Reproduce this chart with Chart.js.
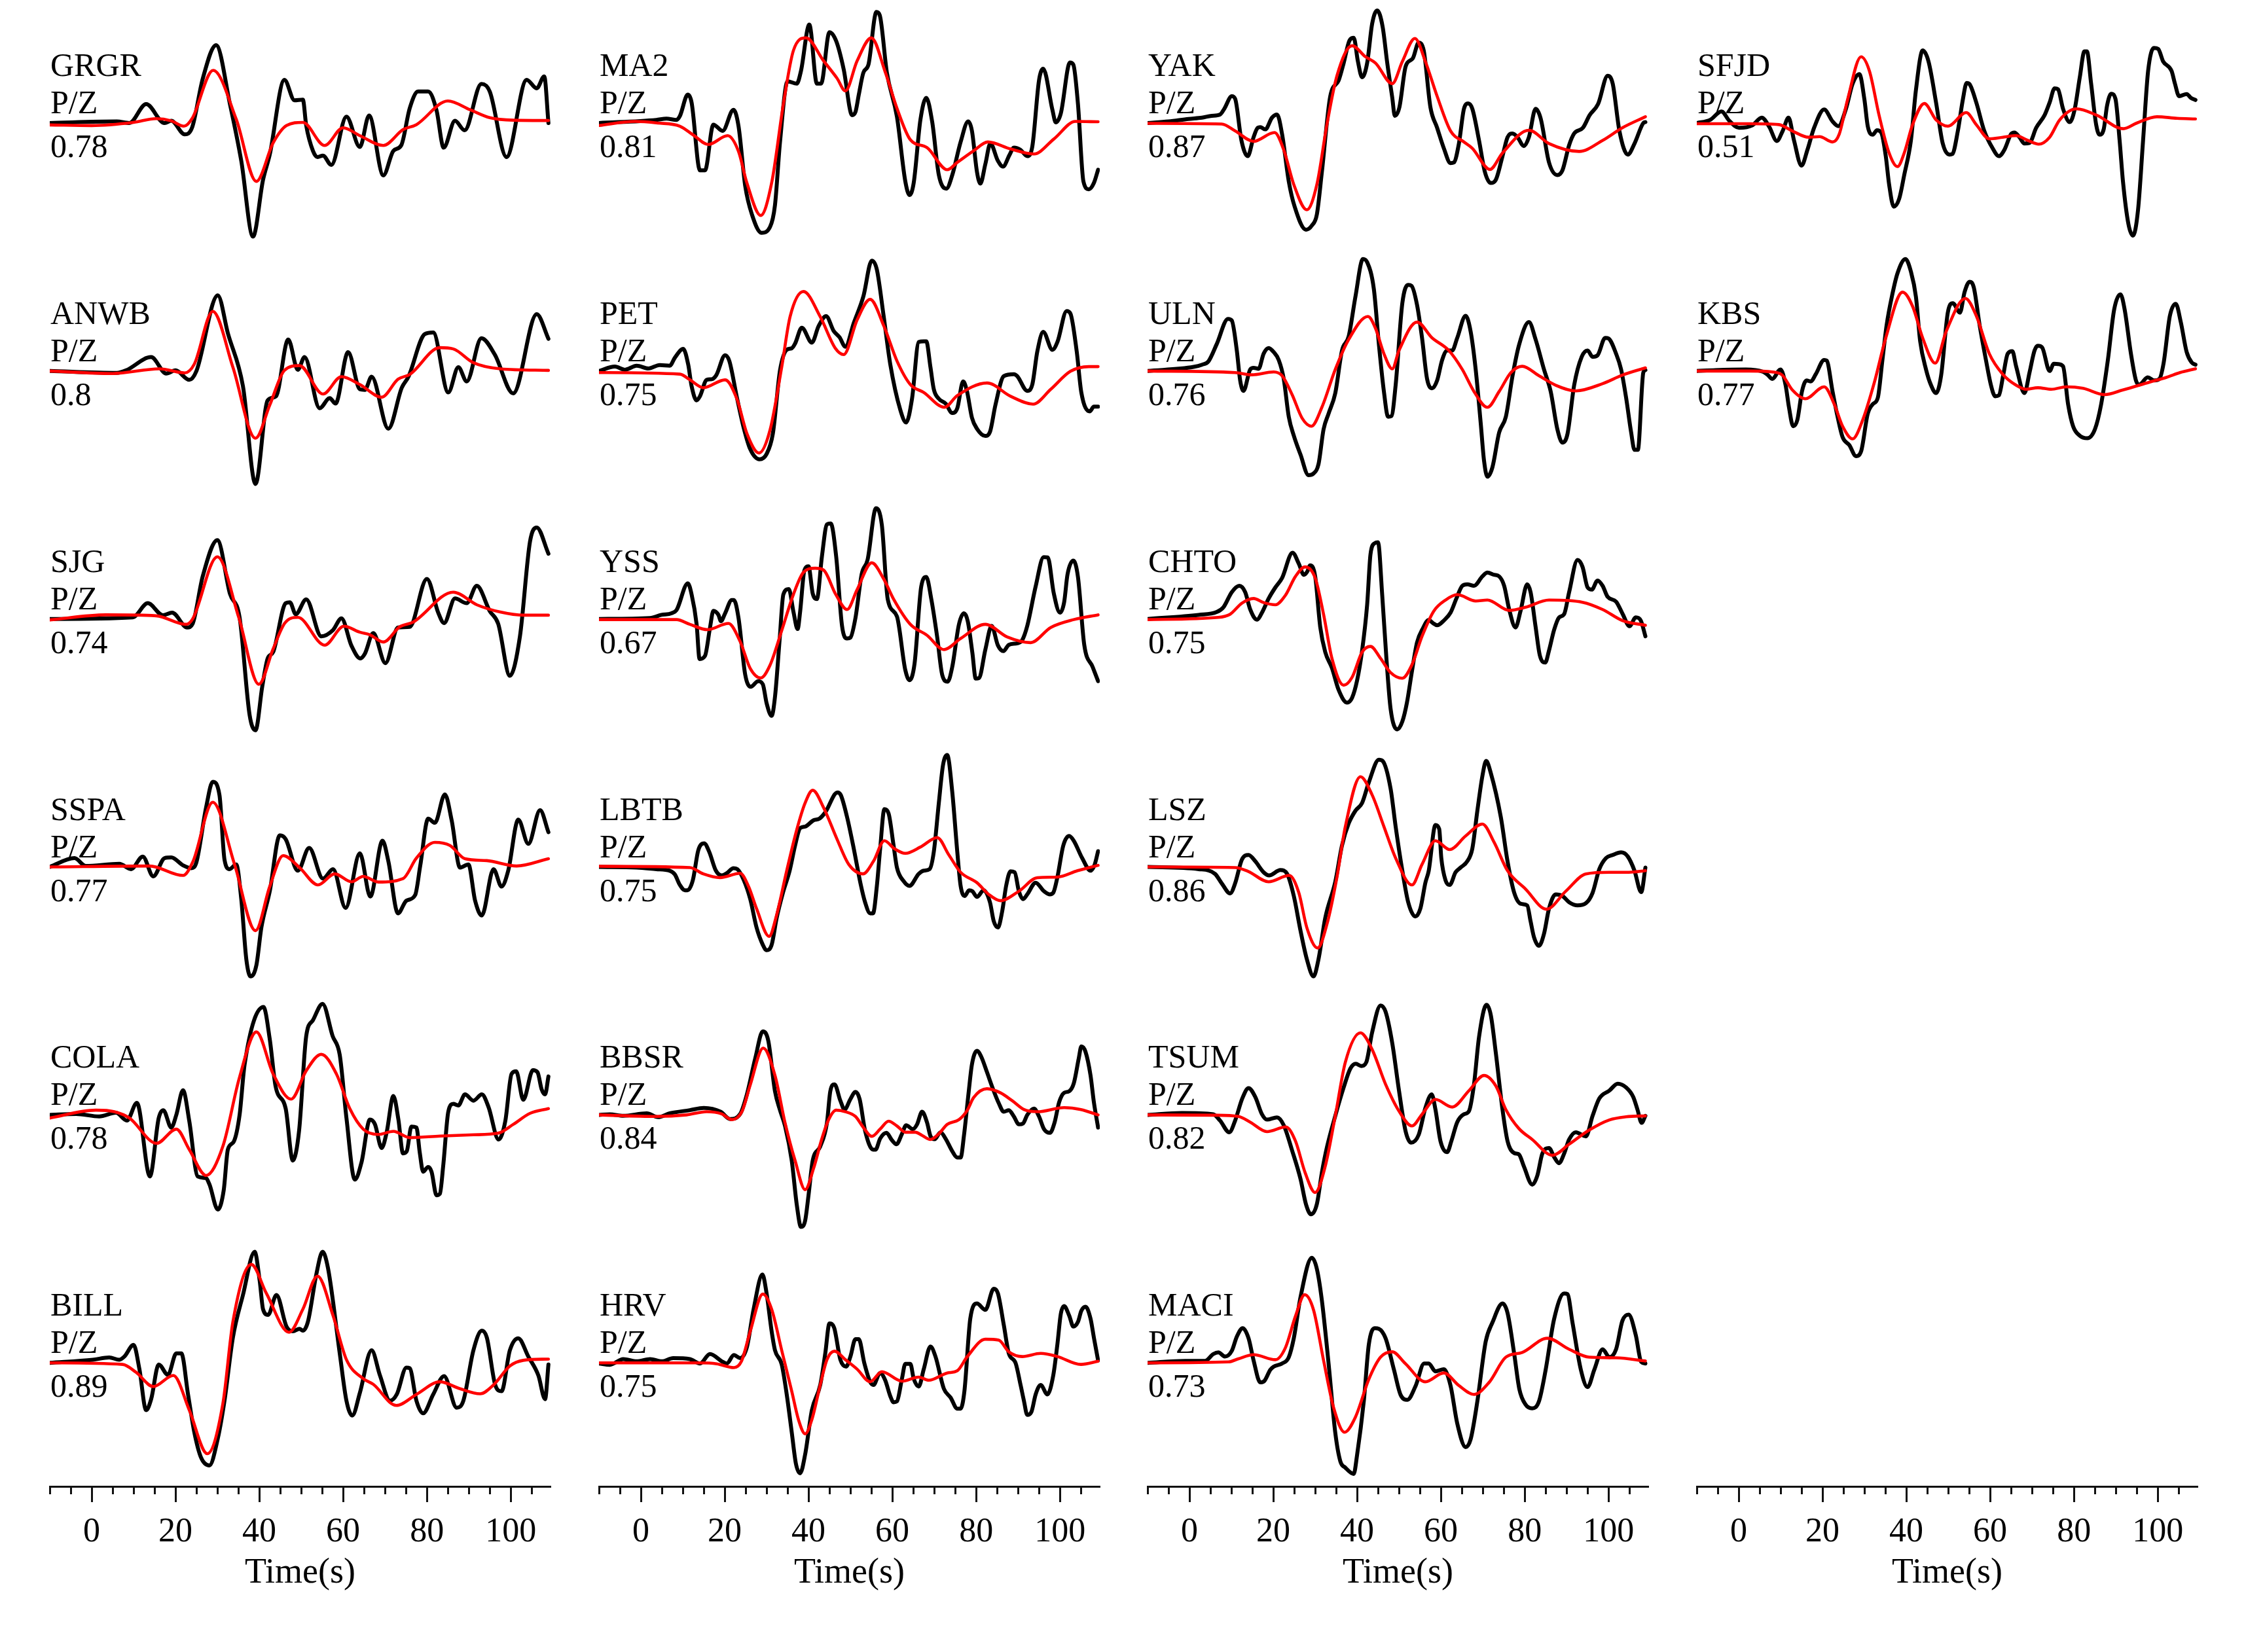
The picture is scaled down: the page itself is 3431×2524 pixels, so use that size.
<!DOCTYPE html>
<html>
<head>
<meta charset="utf-8">
<script src="https://cdn.jsdelivr.net/npm/chart.js@4.4.1/dist/chart.umd.min.js"></script>
<style>
  body { margin: 0; background: #fff; width: 3431px; height: 2524px; position: relative; overflow: hidden; }
  canvas { position: absolute; top: 0; }
</style>
</head>
<body>
<script>
// stations in column order, with the P/Z correlation for each
const stations = ['GRGR','ANWB','SJG','SSPA','COLA','BILL','MA2','PET','YSS','LBTB','BBSR','HRV','YAK','ULN','CHTO','LSZ','TSUM','MACI','SFJD','KBS'];
const ccValues = [0.78,0.8,0.74,0.77,0.78,0.89,0.81,0.75,0.67,0.75,0.84,0.75,0.87,0.76,0.75,0.86,0.82,0.73,0.51,0.77];
const panelsPerColumn = [6,6,6,2];
const componentLabel = 'P/Z';
const tickLabels = [0,20,40,60,80,100];

// waveforms as [time (s), amplitude] — obs = data (black), syn = synthetic (red)
const GRGR_obs = [[-10,0],[6,0.5],[9,0],[13,6],[17.4,0],[19,0.7],[22.2,-3.6],[24,-1.3],[26.5,14],[29.7,24.7],[33,6],[35.7,-12],[38.5,-36],[40.9,-18],[42.5,-10],[46,13.7],[48.4,7.2],[50.4,7.4],[51.2,-0.8],[52.8,-8.8],[53.9,-10.8],[55.2,-10.3],[57.2,-13.3],[60.8,2],[64,-7.6],[66.2,2.4],[69.6,-16.6],[72,-8.8],[73.9,-7],[75.9,4.7],[77.9,10],[80.3,10],[82.3,4],[84,-7.8],[86.7,0.7],[89,-2.3],[93,12.4],[95,10],[99,-10.8],[103.8,13.7],[106.2,11],[108,14.8],[109,0]];
const GRGR_syn = [[-10,-0.6],[0,-0.8],[10,0.2],[15.4,1.4],[19,0.7],[22,-1],[24,1.5],[29,16.7],[34.5,1.2],[39.3,-18.5],[43.3,-6.3],[46.5,-0.8],[50.4,0.2],[55.6,-7.1],[60,-1.5],[64,-4],[69.6,-7.1],[74.3,-2.1],[77.5,-0.5],[85,7],[90.3,4.2],[95,1.7],[100.6,0.9],[109,0.8]];
const ANWB_obs = [[-10,0],[6,-0.6],[8.2,0.2],[14.2,4.4],[17.8,-0.8],[20,0.2],[23.3,-2.8],[25,0],[30.1,24],[32.5,12],[36.1,-4.8],[39.1,-35.8],[42,-9.3],[44,-8],[46.9,10],[49.2,0.4],[50.8,4.4],[54.4,-11.8],[56.8,-8.6],[58.2,-10.3],[61.2,6],[64,-5.8],[65.2,-6],[66.8,-1.8],[70.8,-18.3],[74,-5.3],[75.6,-1.8],[79.5,11.7],[81.5,12.2],[85.1,-6.8],[87.5,1.2],[89.5,-3.3],[93,10.4],[96.2,5.2],[100.6,-7.1],[106.2,18],[109,10.2]];
const ANWB_syn = [[-10,0],[5,-0.8],[16.2,0.7],[22.2,-0.6],[24.5,2.2],[28.9,18.9],[33.7,1.2],[39.1,-21.3],[42.5,-10.8],[46,0.2],[49.6,1.7],[55.2,-7.3],[59.6,-1.8],[64,-4.3],[69.2,-8.3],[73.1,-2.6],[75.9,-1.1],[83.1,7.4],[86.3,7],[91,2.7],[97.5,0.7],[109,0.2]];
const SJG_obs = [[-10,0],[9.8,0.5],[13.4,5],[17,1.2],[19.2,2],[22.8,-2.7],[24.1,-1.5],[26.5,13.5],[30,25],[33,8],[35.3,0.5],[37.7,-30.5],[39.1,-35.3],[40.7,-21.5],[42,-12.5],[43.3,-10.5],[46.3,5],[47.3,5.3],[48.7,1.5],[51.2,6.2],[54.8,-5.5],[57.6,-3.5],[59.6,0.2],[62,-8.5],[64.1,-12.5],[65.2,-11],[67.2,-4.5],[70.1,-14],[73.1,-2.7],[75.9,-2.5],[80,12.7],[82.7,2],[84.1,-1.3],[86.7,6.5],[89.5,5],[91.9,10.5],[95,2.5],[97,-1.5],[99.8,-18],[102.2,-5.5],[104.6,24.5],[106.2,29],[109,20.7]];
const SJG_syn = [[-10,-0.3],[3.4,1.3],[15.4,1],[22.5,-1.7],[24.1,0],[30,19.7],[35.1,0.5],[39.9,-20.7],[43.3,-9.5],[46.1,-1.3],[49.2,0.5],[55.6,-8.3],[60.2,-2.3],[64,-4.2],[66.4,-5],[69.6,-7.3],[73.5,-2.5],[76.7,-1],[86.3,8.5],[91.9,4.5],[97.5,2.2],[103,1.2],[109,1.2]];
const SSPA_obs = [[-10,0],[-4.1,2.8],[-1.4,0.3],[6.6,1],[9.4,-0.7],[12.2,3.3],[14.7,-3],[17.4,2.8],[19,3],[21.8,0.5],[23.8,-0.4],[25,1.5],[27.3,18.8],[28.9,27],[30.5,22.8],[31.7,2.3],[32.9,-0.7],[34.5,0.8],[35.7,-10.2],[36.9,-29.2],[37.9,-34.7],[39.3,-31.2],[40.5,-19.2],[42.5,-7.7],[44.9,10],[46.3,8.8],[49.2,-1.2],[51.9,6],[55.2,-3.7],[57.6,-0.7],[60.6,-13],[64,4.3],[66.5,-9.4],[69.4,8.3],[70.8,1.8],[73.1,-14.7],[75.1,-10.7],[77.2,-8.9],[78.4,0.3],[80.3,15.3],[81.9,14],[84.3,23],[85.9,14.8],[87.9,-0.2],[89.9,0.8],[91.5,-10.7],[93.1,-15.4],[95.9,-0.7],[97.8,-6.2],[99.4,-1.2],[101.8,15],[104.2,7.3],[107,18],[109,11]];
const SSPA_syn = [[-10,0],[13.8,0.3],[21.8,-2.7],[24.2,1.8],[28.9,20.5],[34.1,0.8],[39.1,-20.2],[42.5,-6.2],[45.7,3.6],[49.6,-0.2],[54,-5.7],[58,-2.2],[62,-4.7],[64.8,-3],[68.4,-4.8],[74.3,-3.7],[77.5,2.8],[81.9,7.8],[85.5,6.8],[89.1,2.6],[94.3,2],[101.4,0.3],[109,2.6]];
const COLA_obs = [[-10,0],[-3.7,0.3],[1.8,-0.5],[5.8,0.7],[8.4,-1.8],[10.8,3.8],[13.9,-19.5],[16,-1],[17.1,1.5],[19,-4],[20.2,0],[21.8,7.8],[23.3,-2],[25.3,-19.5],[27.2,-20],[28.1,-22],[30.1,-30],[31.5,-24],[32.5,-11],[33.9,-8.5],[35.3,0],[36.5,16],[41,34.2],[42.5,24],[43.9,9],[46.3,2],[48,-14.5],[49.5,-5],[51.2,25],[52.8,30],[55.1,35.2],[57.5,25],[59.2,19],[60.8,-1],[62.8,-20.5],[64.4,-15],[66.4,-1.5],[67.6,-3],[69.2,-10.5],[70.4,-5.5],[72,6],[73.2,-1.5],[74.3,-12.2],[75.2,-11.5],[76.3,-3.7],[77.5,-4],[78.3,-12],[79.1,-18],[80.3,-16.5],[81.1,-18],[82.3,-25.5],[83.1,-25],[83.9,-16],[85.1,1],[86.3,3.5],[87.5,3],[89.1,6.5],[91.1,4.5],[93.1,6.5],[94.7,2.5],[97.1,-7.8],[98.7,-2],[100.2,13],[101.3,13.8],[103,4.8],[105.3,14.2],[106.4,13.5],[107.4,8],[108.2,6.5],[109,12.2]];
const COLA_syn = [[-10,-1],[1,1.5],[5.4,1],[9,-1],[15.5,-9],[20.2,-4.5],[23.3,-11],[27.3,-19.2],[31.3,-10],[35.3,12],[39.3,26.3],[43.3,13],[47.6,5],[51.2,14],[54.8,19.2],[58.4,13],[61.6,2],[64.8,-4.5],[68.4,-6.2],[72,-5.2],[75.9,-7.2],[83.1,-6.7],[91.1,-6.3],[97,-5.8],[100.6,-3],[104.6,0.5],[109,2]];
const BILL_obs = [[-10,0],[0.3,1],[4.2,1.7],[6.6,1],[7.8,2],[10,5.7],[11.4,-2],[13,-15],[14.2,-11.5],[16,-0.5],[18.2,-3.8],[20.2,3],[21.4,3],[23,-10],[24.5,-22],[26.1,-30],[28.1,-32.5],[30.1,-24],[31.7,-12],[33.7,8],[36.1,21.5],[38.9,35.2],[40.1,26],[40.9,17],[42.1,15.2],[44.1,21.5],[46.5,11.5],[48,10],[49.6,10.8],[50.4,10.2],[51.6,13],[53.6,28],[55.1,35.2],[56.4,30],[59.2,3],[60.8,-12],[62.2,-16.7],[64,-9.5],[66.8,4],[68.8,-4],[71.2,-12],[72.8,-10],[75.1,-1.5],[75.9,-1.7],[77.5,-12],[79.1,-16],[81.5,-10],[84.1,-4.2],[87.1,-14.2],[88.7,-12],[91.1,4],[93.1,10.2],[94.3,8],[96.3,-7],[97.8,-9],[99.8,4],[101.8,7.8],[104.2,2],[106.6,-4],[108.2,-11.5],[109,-0.5]];
const BILL_syn = [[-10,0],[7.4,-0.5],[10.6,-3],[14.7,-7.5],[19.5,-4],[23.3,-15],[27.6,-28.8],[31.3,-13],[33.7,13],[38.1,31.2],[41.7,22],[47.1,9.7],[50.4,17],[53.9,27.5],[57.6,15],[60.8,1],[64.8,-5],[67.2,-6.8],[72.7,-13.5],[77.5,-10],[83.1,-6],[87.9,-8.2],[92.7,-9.8],[95.9,-7],[99.8,-1],[103,0.8],[109,1.2]];

const MA2_obs = [[-10,0],[3.7,1],[6.1,1.4],[8.5,1],[9.3,2.2],[11.2,9],[12.1,6.5],[14.1,-15],[15.3,-15],[17.3,-0.5],[19.5,-2.5],[22.1,4.2],[23.3,-1],[24.9,-20],[26.5,-29],[28.8,-34.8],[30.8,-33],[32,-26],[33.2,-6],[35,13.2],[37.2,12.5],[38.2,16.5],[40.2,31.2],[42,12.5],[43,12.5],[45,28.8],[46.6,26],[48.4,17],[50.4,2.5],[51.2,3.5],[52,9],[53.1,16],[54.3,18.5],[56.2,35.2],[57,34.2],[58.7,16],[61.1,2],[63.1,-18.5],[64.1,-22.8],[65.1,-19],[66.7,1],[68.1,8],[69.5,0.5],[71.1,-16.5],[72.9,-20.8],[74.3,-16.5],[76.3,-6],[78.1,0.5],[79,-2.5],[80.2,-15.5],[81,-19.2],[82.2,-13],[83.4,-6.5],[85.2,-12],[86.4,-13.8],[88,-10],[89,-7.8],[90.6,-8.5],[92.2,-10.5],[93.4,-7.5],[95,13.5],[96,17.2],[98.2,4.2],[99,0.2],[100.2,3],[102.4,19.2],[103.2,18.5],[104.3,6],[105.6,-18.5],[106.9,-21],[108.1,-19],[109.1,-14.8]];
const MA2_syn = [[-10,-0.8],[-1.4,0.5],[4,0],[9.3,-1],[12.5,-3.8],[16.1,-6.8],[20.7,-4],[23.3,-9],[25.3,-19],[28.6,-29.3],[31.2,-19],[34,6],[36.4,23],[39.4,27],[43.6,19.7],[46.8,14.2],[48.8,10.2],[51.6,19.7],[55,27],[58.3,16.2],[61.1,4.7],[64.3,-5.3],[68.3,-7.8],[73.1,-14.8],[75.5,-12.5],[79.4,-8.8],[82.8,-6],[88.2,-8.2],[93.8,-9.8],[98.6,-5],[103.7,0.5],[109.1,0.4]];
const PET_obs = [[-10,0],[-6.2,1.4],[-3.8,0.4],[-1,1.7],[1.8,0.8],[4.5,1.9],[6.9,1.7],[8.1,4.2],[10.1,7],[11.3,2],[12.1,-4.8],[13.3,-9.3],[14.1,-8],[15.7,-2.8],[16.9,-2.6],[18,-1.3],[20.1,5],[21.1,3.2],[22.9,-8.3],[24.5,-17.8],[26.1,-24.8],[28.3,-28],[30,-26.3],[31.5,-19.8],[33.2,0.2],[34.8,6.7],[36,7.2],[36.8,8.7],[38.4,13.7],[40.8,9],[42.4,14.2],[44.2,17.4],[46,12.7],[47.4,10.7],[48.8,7.7],[50.8,15.2],[53.1,23.7],[55.1,35],[56.3,32.2],[57.9,17.7],[59.5,2.2],[61.9,-12.3],[63.3,-16.3],[64.7,-8.8],[66.3,9.2],[67.5,9.4],[68.1,9.4],[69.1,1.2],[69.9,-5.8],[71.1,-8.8],[72.7,-10.3],[74.3,-13.3],[75.5,-11.8],[76.9,-3.3],[77.8,-6.3],[79,-14.8],[80.2,-18.3],[82.2,-20.6],[83.3,-19.3],[84.6,-10.8],[86.6,-1.6],[89,-1],[89.8,-1.6],[92.2,-6.3],[93.4,-4.3],[94.6,6.2],[96,12.4],[98.2,6.7],[99.4,9.2],[101.6,19],[102.5,18.2],[104,6.2],[105.1,-6.8],[107.1,-12.8],[108.1,-11.3],[109.1,-11.3]];
const PET_syn = [[-10,-0.5],[9.3,-1],[11.7,-2.8],[14.9,-5.3],[20.1,-2.8],[22.9,-8.8],[25.3,-19.8],[28.2,-26],[30.8,-18.8],[33.6,1.2],[35.6,17.2],[38.8,25.2],[42.8,17.2],[46.4,7.2],[48.4,5.2],[51.6,16.2],[54.7,22.7],[58,14.2],[61.1,3.2],[64.3,-4.3],[67.5,-6.8],[72.4,-11.5],[75.5,-7.8],[82.6,-3.8],[88.2,-8],[93.6,-10.5],[97.8,-5.8],[102.5,-0.1],[106.9,1.4],[109.1,1.4]];
const YSS_obs = [[-10,0],[2.2,0.3],[4.9,1.3],[7.3,1.8],[8.5,2.8],[11.2,11.3],[12.1,7.8],[13.3,-1.7],[14,-12.7],[15.3,-11.7],[16.5,-2.7],[17.3,2.6],[18.5,1.3],[19.1,-0.7],[20.1,1.8],[21.7,6],[22.2,6],[23.3,0.3],[24.9,-17.7],[26.2,-21.5],[28,-19.7],[29.1,-20.7],[30,-26.7],[31.2,-30.7],[32,-24.7],[33.1,-6.7],[34,7.8],[35.3,9.5],[36.4,2.3],[37.4,-3.2],[38,2.3],[39,15.3],[40,16.7],[41,8.1],[42,6.3],[43.2,19.8],[44.4,30],[45.3,30.3],[46.6,19.8],[48,-2.2],[49.2,-6.2],[50,-5.9],[51.2,0.3],[52.7,14.3],[54.1,18.8],[56.1,35.1],[57.5,29.8],[58.9,6.3],[61.1,0.8],[63.1,-16.2],[64.1,-19.4],[65.3,-14.2],[66.9,10.3],[68.1,13.3],[69.3,6.3],[70.7,-5.7],[71.9,-17.7],[73.2,-19.9],[74.3,-15.2],[75.9,-1.7],[77.1,1.8],[78,-0.7],[79.1,-10.7],[79.9,-18.9],[80.7,-18.7],[82.2,-9.7],[83.7,-2.2],[85.2,-8.4],[86.5,-10.2],[87.8,-8.2],[89.8,-7.7],[91,-6.7],[92.2,-2.2],[94.2,10.3],[96.1,19.6],[97.1,19.5],[98.5,8.3],[100,2],[101,5.3],[101.8,14.1],[103.2,18.5],[104.3,13.3],[105.8,-8.2],[107.8,-15.2],[109.1,-19.7]];
const YSS_syn = [[-10,-0.2],[8.5,-0.2],[11.7,-1.7],[15.9,-3.4],[20.9,-1.4],[23.7,-7.2],[26.1,-15.7],[28.6,-18.7],[30.8,-14.7],[33.6,-3.7],[36.4,7.8],[38.8,14.8],[41.6,16.1],[43.6,15.5],[46.5,7.8],[49.2,3],[51.6,9.3],[55.1,17.8],[57.9,12.8],[60.3,6.3],[64.3,-1.7],[68.3,-5.2],[72.3,-9.7],[76.3,-6.2],[82.2,-1.7],[87.4,-5.7],[93,-7.5],[97.8,-2.7],[103.3,-0.2],[109.1,1.3]];
const LBTB_obs = [[-10,0],[-1,-0.2],[3.7,-0.7],[6.9,-1.2],[8.1,-2.4],[9.3,-5.7],[10.5,-7.4],[11.1,-7.4],[12.4,-4.2],[13.7,5.3],[15.1,7.5],[16.3,4.8],[17.9,-1.2],[19.3,-2.7],[20.5,-2],[22.1,-0.4],[23,-0.7],[24.5,-4],[26.1,-10.2],[27.6,-19.2],[29.1,-24.7],[30,-26.4],[31.2,-24.7],[32.4,-16.2],[33.9,-8.2],[35.5,-1.2],[36.8,6.8],[38,12.3],[39.2,12.8],[41.2,14.8],[42.6,15.3],[44,17.3],[46.9,23.6],[47.7,22.8],[49.2,15.8],[50.8,5.8],[52.4,-5.2],[53.5,-11.2],[54.7,-14.7],[55.4,-14.7],[56.3,-6.2],[57.1,5.8],[58.1,18.3],[59.1,17],[60.3,6.8],[61.1,-0.2],[62.7,-4.5],[64.1,-6],[66.3,-2.2],[67.5,-1.2],[68.9,-0.7],[69.9,4.8],[71.1,20.3],[72.1,32.3],[73.1,35.5],[74.3,23.8],[75.5,4.8],[76.3,-6],[77.3,-9.2],[78.3,-7.4],[79.1,-7.7],[80.2,-9.5],[81.8,-7.4],[83.3,-11.2],[84.2,-17.2],[85.2,-19.2],[86.2,-14.2],[87.2,-5.7],[88.2,-1.4],[89.2,-1.7],[90.2,-7.7],[91.2,-10.2],[92.2,-8.7],[94.2,-5],[96.2,-7.7],[97.6,-8.7],[98.4,-8.2],[99.4,-3.2],[100.8,6.8],[102.2,9.8],[103.3,8.3],[105.3,2.8],[107.3,-1.2],[108.3,0.8],[109.1,5]];
const LBTB_syn = [[-10,0.2],[11.7,-0.2],[14.9,-2.2],[18.9,-3.4],[23.7,-2],[25.7,-6.2],[27.6,-13.2],[30.6,-22],[32.4,-15.2],[34.8,-1.2],[37.2,11.8],[39.2,20.3],[41,24.3],[43.6,18.8],[46.8,8.8],[49.6,0.8],[53,-2.2],[55.5,1.8],[58.1,8.3],[60.5,5.8],[63.1,4.3],[66.7,6.3],[70.7,9.3],[73.5,3.8],[76.3,-1.7],[80.2,-5],[83,-8.7],[85.8,-10.7],[90.2,-7.7],[94.6,-3.4],[99.4,-3.2],[104.2,-1.2],[109.1,0.5]];
const BBSR_obs = [[-10,0],[-7.4,0.2],[-4.2,-0.3],[1.4,0.5],[4.1,-0.7],[6.9,0.5],[11.7,1.5],[15,2.2],[19,1],[21.3,-1.3],[23.7,0.3],[25.3,6.5],[27.3,18],[29.1,26.5],[30.4,23.5],[32,7.5],[33.2,1.5],[34.4,-3.5],[36,-14.5],[37.2,-28.5],[38.2,-35.5],[39.2,-33.5],[40,-25.5],[41,-14.5],[42.8,-10],[44.4,-2.5],[45.2,7.5],[46.2,9.7],[47.6,4.5],[48.6,1.7],[50,5],[51.2,7.3],[52.2,5],[53.5,-5],[55.4,-11],[56,-11],[57.1,-7.5],[58.6,-5.7],[59.9,-8],[61,-9.3],[62.3,-6],[63.3,-3.3],[64.9,-4.5],[65.9,-3],[67.1,1],[68.3,-2.5],[69.1,-6.7],[70.1,-7.7],[71.5,-5.5],[72.7,-7.5],[74.3,-11.5],[75.5,-13.5],[76.3,-13.5],[77.1,-6.5],[78.2,7],[79,16],[80.2,20.3],[81.2,18.5],[82.6,13.5],[83.8,9],[85.4,3.7],[86.6,1],[87.8,1.5],[89,-0.5],[90.2,-3],[91.2,-2.7],[92.2,0],[93.8,2],[95,-0.5],[96.2,-4.5],[97.6,-5.7],[98.7,-2.5],[99.8,4],[101,7],[102.2,7.5],[103.3,10],[104.5,18],[105.1,21.7],[106.1,20],[107.3,12.5],[108.1,4],[109.1,-4]];
const BBSR_syn = [[-10,0],[3.7,-0.5],[10.9,0],[15.7,1],[19.3,0.3],[21.7,-1.5],[24.1,1],[26.1,9.5],[29.2,21.2],[32,12.5],[34.4,-2.5],[36.8,-14.5],[39.2,-23.7],[41.2,-17],[43.2,-7.5],[44.8,-1.5],[46.6,1.5],[48.8,1],[51.2,-0.5],[53.1,-4],[55.1,-6.8],[57.1,-4.5],[59.1,-2],[61.1,-3.5],[63.1,-5.5],[65.5,-5.5],[67.1,-6.5],[69.1,-7.8],[71.1,-6],[73.1,-3],[75.9,-1.5],[77.9,1.5],[79.4,5.5],[82.6,8.3],[85.8,7],[88.6,4.5],[91.4,1.7],[94.6,1],[101,2.3],[105,1.7],[109.1,0]];
const HRV_obs = [[-10,-0.2],[-7.4,-0.6],[-4.2,1.2],[-1,0.5],[2.2,1.2],[5,0.5],[7.7,1.5],[11.7,1.2],[14.1,-0.2],[16.5,2.8],[19.3,0.5],[20.5,-0.2],[22.2,2.5],[23.7,1.5],[25.3,5],[26.9,17],[29,28],[30,22],[31.2,10],[32,4],[33.6,-0.5],[34.8,-10],[36,-22],[37,-32],[38,-35],[39.2,-29],[40.8,-15],[42.8,-7],[44,3],[45,12.5],[46.1,11.2],[47.6,1],[49,-1.2],[50,2],[51.2,7.5],[52,7.5],[53.3,0],[54.7,-6],[55.5,-7],[57.1,-3.2],[58.3,-5.5],[59.5,-10.5],[60.3,-12.5],[61.1,-12.2],[62.3,-5],[63.1,-0.3],[64.3,-0.3],[65.1,-5],[66.3,-7.5],[67.5,-2],[69.1,5.2],[70.3,2],[72.3,-8.2],[73.9,-11],[75.5,-14.5],[76.3,-14.5],[77.2,-9],[78.6,14],[80.2,18.8],[82.2,16.8],[84.2,23.5],[85.2,22],[86.6,12],[87.8,3],[89.4,0],[90.6,-7],[91.4,-12],[92.2,-16.5],[93.2,-15.5],[94.2,-10],[95.4,-7],[97,-10],[98.4,-4],[99.4,6],[100.2,15.5],[101,18],[102.2,15],[103.2,11.5],[104.3,13],[105.1,16.5],[106.1,17.8],[107.3,14],[108.1,8],[109.1,0.8]];
const HRV_syn = [[-10,0],[14.1,0],[18.1,-0.3],[22.2,-1.5],[24,0.5],[26.1,10],[29.1,21.8],[31.2,17],[33.6,4],[36,-9],[37.6,-18],[39.2,-22.5],[40.8,-18],[42.8,-7],[44.4,1],[46.2,3.7],[48.8,1],[51.6,-2],[54.7,-6],[57.5,-2.8],[62.3,-5.8],[66.3,-4.5],[68.7,-5.5],[73.1,-3.2],[75.5,-2.5],[77.9,2],[82.2,7.5],[85.4,7.2],[87.8,3.5],[91,2],[95.4,3],[99.4,2],[105,-0.5],[109.1,0.5]];

const YAK_obs = [[-10,0],[-5,0.5],[-0.2,1.3],[3,1.7],[5.3,2.3],[7.3,2.7],[8.3,4.5],[10.1,8.5],[10.9,7.7],[12.4,-5.5],[13.9,-10.5],[15.3,-4.5],[16.3,-1.5],[16.9,-1.3],[18.1,-2],[19.7,1.7],[20.9,2.7],[22.1,-3.5],[23.7,-18.5],[25.1,-26.5],[27.8,-33.8],[29.2,-32.5],[30.4,-29],[31.6,-15.5],[33.6,8.5],[35.6,13.5],[36.8,19],[38.2,26.2],[39.2,27],[40.2,19.5],[41.2,14.5],[42.4,19],[43.6,31.5],[44.8,35.7],[46.1,30.5],[47.2,19],[48.4,8],[49,2.3],[50.1,5],[51.6,18],[53.3,20.5],[54.7,25.5],[55.9,23],[57.5,5],[59.1,-1.5],[60.7,-8],[62.3,-12.7],[63.1,-12.5],[64.3,-6.5],[65.5,4.5],[66.5,6.2],[67.5,4.5],[69.1,-5.5],[70.5,-15.5],[71.9,-19],[73.1,-18],[74.7,-10.5],[75.9,-4.5],[77.1,-3.3],[78.3,-4.5],[79.8,-7.3],[81,-4.5],[82.6,4.5],[83.8,1.5],[85.8,-12.5],[87.8,-16.5],[89,-15],[90.6,-7],[91.8,-3.3],[93.9,-1.5],[95.5,2.5],[97.5,6],[99.8,15],[101,12.5],[102.6,-2.5],[104.6,-10],[106.2,-6.5],[108.3,0],[108.8,0.3]];
const YAK_syn = [[-10,-0.1],[7.7,-0.3],[10.9,-2.5],[15.3,-5.8],[20.3,-3],[22.5,-8.5],[24.9,-19.5],[28,-27.5],[30.4,-19.5],[32.8,-0.5],[35.2,15],[38.8,24.5],[42,21],[44.4,19],[48.4,12.5],[50.8,19.5],[53.8,26.8],[56.3,19.5],[59.1,8.5],[62.3,-2.5],[65.5,-6],[67.5,-8],[71.7,-14.7],[74.7,-9.5],[81,-2.3],[85.8,-6.5],[93,-9],[98.6,-5.5],[103.3,-1.5],[108.8,2]];
const ULN_obs = [[-10,0],[1,1.3],[3,2],[4.5,3],[6.5,8.5],[9.2,16.5],[10.1,16],[11.3,6.5],[12.1,-3],[12.9,-6.3],[14.5,0.5],[15.3,1],[16.5,0.7],[17.7,5.5],[18.9,7.3],[20.1,6],[21.3,3.5],[22.5,-2.5],[23.7,-14.5],[24.9,-20.5],[26.5,-26.5],[28.4,-33],[29.6,-32.5],[30.8,-29.5],[32,-18.5],[33.2,-13.5],[34.8,-7],[36.4,6.5],[38,11],[39.6,23.5],[41.4,35.5],[42.4,34.5],[44,26],[45.2,8.5],[46.4,-6.5],[47.4,-14.5],[48.2,-14.3],[49.2,-4.5],[50.8,21.5],[52.2,27.3],[53,27],[54.3,21],[55.5,10.5],[56.7,-2.5],[57.9,-5.5],[59.1,-3],[60.3,3.5],[61.5,6.5],[62.7,6.5],[63.9,10.5],[65.9,17.5],[67.1,12.5],[68.3,0.5],[69.5,-16.5],[70.3,-28.5],[71.1,-33.5],[72.3,-30.5],[73.9,-19.5],[75.5,-14.5],[77.1,-1.5],[78.7,8.5],[81,15.5],[82.6,10],[84.6,0.5],[86.2,-6.5],[87.8,-18.5],[89,-22.7],[90.2,-20],[91.8,-4.5],[93.6,4.5],[95,6.5],[96.2,4.5],[97.4,5],[99.2,10.5],[100,10.3],[101.8,5.5],[103,0.5],[104.2,-8.5],[105.4,-19.5],[106.2,-25],[107,-25],[108.3,-0.5],[108.8,0.3]];
const ULN_syn = [[-10,0],[10.9,-0.5],[14.9,-1.2],[20.1,-0.3],[22.1,-1.5],[24.5,-7.5],[26.9,-15],[29.1,-17.5],[31.6,-11.5],[34.8,0.5],[38,10],[42.6,17.3],[44.4,13.5],[46.4,5.5],[48.4,0.7],[50,6.5],[54.3,15.5],[57.9,10.5],[61.9,6.5],[65.1,0.5],[67.9,-6.5],[71.1,-11.5],[73.9,-6.5],[76.7,-0.5],[79.4,1.5],[83.4,-1.5],[87.4,-4.5],[92.2,-6.3],[98.6,-4],[103.3,-1.3],[108.8,1]];
const CHTO_obs = [[-10,0],[2.2,1.3],[6.5,2.2],[8.1,3.7],[10.1,8.5],[11.9,10.5],[13.3,8.5],[14.5,3],[16.1,-0.2],[17.3,2],[18.9,6.5],[20.5,10],[22.1,13],[24.6,21],[26.1,17.5],[27.3,14],[28.1,15],[28.8,17],[30,13.5],[31.2,-2.5],[32.4,-10.5],[34,-15.5],[35.6,-22.5],[37.6,-26.5],[38.8,-25],[40,-19.5],[41.2,-10],[42.4,4.5],[43.2,20.5],[44.2,24],[45,24.3],[46,7.5],[47,-12.5],[48,-28.5],[49.6,-35],[50.8,-32.5],[51.9,-26.5],[53.1,-16.5],[54.3,-7.5],[55.7,-3],[57.1,-0.3],[58.1,-1.3],[59.1,-2],[60.7,-0.5],[62.3,2],[63.7,6.5],[65.1,10.5],[66.3,11],[67.9,10.5],[69.9,13.5],[71.1,14.7],[72.7,14],[73.9,13.5],[75.1,10.5],[76.3,3],[77.8,-2.7],[79,2.5],[80.6,11],[81.4,8.5],[82.6,-2.5],[83.6,-11.5],[84.9,-13.8],[85.8,-10],[87,-3.5],[88.2,0.5],[89.4,1.5],[90.6,8.5],[92.6,18.7],[93.8,16.5],[95,10],[96,9.3],[97.4,12.2],[98.6,10.5],[99.8,7],[101.8,5.5],[103.4,1.5],[105,-2.3],[106.5,0.5],[107.7,-0.5],[108.8,-5.5]];
const CHTO_syn = [[-10,-0.2],[6.9,0.5],[9.7,1.5],[12.5,5],[15.3,6.5],[17.7,5.2],[20.5,4.5],[22.9,7.5],[25.3,13.5],[27.6,16.5],[30,13],[32,1.5],[34,-12.5],[36.8,-21],[38.8,-18.5],[41.2,-10.5],[43.2,-8.7],[45.6,-12.5],[48,-17],[50.8,-18.8],[53.1,-14.5],[55.5,-5.5],[58.3,2.5],[61.1,6],[63.9,7.7],[68.3,5.7],[71.1,6],[76.3,2.7],[80.2,3.7],[85.8,6],[93.8,5.3],[98.6,3],[103.3,-0.5],[108.8,-2]];
const LSZ_obs = [[-10,0],[2.2,-0.7],[6.1,-2.2],[7.7,-5.2],[9.7,-8.4],[10.9,-5.2],[12.5,2.3],[14.1,3.8],[15.7,1.8],[17.7,-1.7],[19,-2.7],[21.7,-1],[23.3,-2.2],[24.9,-9.2],[26.5,-20.2],[28,-29.2],[29.6,-34.7],[30.8,-29.2],[32.4,-16.2],[34.8,-4.7],[36.4,6.8],[38,13.8],[39.6,17.8],[41.2,20.3],[42.8,26.8],[45.2,34],[46.1,33.6],[48,24.8],[49.2,12.8],[50.8,-1.2],[52.2,-11.2],[53.9,-15.7],[55.1,-13.2],[56.3,-5],[57.1,-1.2],[58.7,13.3],[59.6,12],[60.1,2.8],[61.1,-4.2],[62.1,-5.7],[63.5,-1.7],[64.7,-0.2],[66.3,1.8],[67.5,5.8],[68.7,17.8],[69.9,28.8],[70.8,33.6],[71.9,29.8],[74.3,15.8],[75.9,1.8],[77.5,-8.2],[79.1,-11.7],[80.6,-12.2],[81.4,-17.2],[82.2,-22.2],[83.4,-25],[84.6,-21.2],[85.8,-13.2],[87.4,-8.7],[89,-9.2],[90.6,-11.2],[92.6,-12.2],[94.6,-11.5],[96.2,-8.2],[97.8,-0.7],[99.4,2.8],[101,3.8],[103,4.6],[104.6,3.3],[106.2,-1.2],[107.8,-8],[108.8,-0.2]];
const LSZ_syn = [[-10,0],[10.9,-0.2],[14,-1.4],[18.9,-4.7],[23.8,-2.7],[26.1,-8.2],[28,-19.2],[30.6,-25.7],[32.8,-18.2],[35.2,-3.2],[37.2,12.8],[40.8,28.6],[43.6,22.8],[46.4,12.8],[49.2,2.8],[53.1,-5.7],[55.5,0.8],[58.7,8.3],[62.1,5.5],[65.9,9.8],[69.9,13.6],[72.7,7.8],[75.9,-1.2],[80.2,-7],[85.2,-13.4],[89.8,-7.7],[94.6,-2.2],[100.2,-1.7],[104.9,-1.7],[108.8,-1.2]];
const TSUM_obs = [[-10,0],[-1.8,0.6],[5.7,0.2],[7.3,-1.8],[9.5,-5.5],[10.9,-1.8],[12.6,5.2],[14.1,8.5],[15.7,5.7],[17.3,0.2],[18.5,-1.5],[20.9,-0.8],[22.5,-3.3],[24.5,-11.3],[26.5,-20.3],[27.8,-28.3],[29,-31.5],[30.4,-28.3],[31.6,-18.3],[32.8,-10.3],[34.8,-0.3],[36.8,8.7],[38.4,14.7],[39.7,16.2],[41,15.5],[42.2,16.7],[43.6,26.2],[45.6,34.7],[46.8,32.7],[48.4,22.7],[50,7.7],[51.6,-5.3],[52.9,-8.8],[54.7,-6.3],[56.3,2.2],[57.8,6.5],[58.7,1.7],[59.9,-8.3],[61.5,-11.8],[62.5,-8.3],[63.9,-2.3],[65.5,0.2],[66.7,1.2],[67.9,9.7],[69.1,24.7],[70.9,34.9],[71.9,31.7],[73.1,19.7],[74.7,1.7],[75.9,-8.3],[77.5,-12.1],[78.6,-12.5],[79.8,-16.3],[81.8,-22.1],[83,-19.3],[84.2,-12.3],[85.8,-10.5],[87,-13.3],[88.2,-15.3],[89.4,-12.3],[90.6,-7.8],[92.2,-5.5],[94.6,-6.8],[96.2,-0.3],[97.8,5.2],[100.2,7.7],[102.2,9.9],[104.2,8.7],[105.9,5.7],[106.9,1.7],[107.9,-2.5],[108.8,-0.3]];
const TSUM_syn = [[-10,0],[6.1,-0.1],[11.7,-0.5],[14.5,-2.3],[18.5,-5.3],[23,-3.8],[25.3,-8.3],[27.6,-18.3],[30,-24.6],[32.4,-16.3],[34.8,-0.3],[37.2,16.7],[40.8,26],[43.6,20.7],[46.8,9.7],[50,1.2],[53.1,-3.5],[55.5,0.2],[58.7,4.9],[62.7,2.5],[66.7,7.7],[70.3,12.5],[73.1,9.2],[75.5,1.7],[78.6,-4.3],[81.8,-7.8],[86.6,-12.8],[90.6,-9.3],[95.4,-4.8],[100.2,-1.6],[104.2,-0.6],[108.8,-0.3]];
const MACI_obs = [[-10,0],[-1,0.6],[3.7,0.6],[5.7,2.8],[6.9,3.3],[8.5,2],[10.1,3.8],[11.3,8.3],[12.7,11],[14.1,7.8],[15.3,0.8],[16.9,-6.2],[17.9,-5.7],[19.3,-2.2],[20.1,-1.2],[22.1,-0.2],[23.7,1.8],[24.9,7.8],[26.5,20.8],[29.2,33.3],[30.4,29.8],[31.6,19.8],[33.2,-0.2],[34.8,-22.2],[36,-31.2],[37.2,-33.2],[39.2,-35.2],[40,-29.2],[41.6,-12.2],[42.8,5.8],[44.2,11],[45.2,10.8],[46.8,7.8],[48.8,-2.2],[50.4,-10.2],[52,-11.7],[54,-7.2],[56,-0.2],[57.1,-0.2],[58.7,-2.7],[60.7,-2],[62.3,-7.2],[63.9,-19.2],[65.9,-26.7],[67.1,-24.2],[68.7,-12.2],[70.7,6.8],[72.3,12.8],[74.7,18.8],[75.9,15.8],[77.5,2.8],[78.7,-8.2],[80.2,-13.2],[81.8,-14.4],[83.4,-12.2],[85,-2.2],[87,13.8],[89.4,22],[90.2,21.8],[91.4,12.8],[93.4,-2.2],[95,-7.7],[96.6,-2.2],[98.6,4.3],[100.2,1.8],[101.8,4.3],[103.3,13.3],[104.8,15.3],[106.5,8.8],[107.8,0.3],[108.8,-0.2]];
const MACI_syn = [[-10,0],[9.3,0.3],[11.7,1.3],[15.3,2.6],[20.5,1],[22.9,4.8],[25.3,14.8],[27.5,21.6],[29.6,16.8],[32,0.8],[34.4,-14.2],[37,-22],[39.6,-17.2],[42.8,-5.2],[45.6,1.8],[48.4,3.5],[51.5,-0.2],[56.3,-6],[60.7,-3.2],[64.3,-7.2],[67.9,-10],[71.5,-6.2],[75.5,1.8],[79.4,3.3],[85.4,7.8],[90.6,4.3],[95.4,1.8],[101.8,1.6],[108.8,0.6]];

const SFJD_obs = [[-10,0],[-6.8,1],[-4.1,3.7],[-2.3,0.8],[0.1,-1.5],[3.3,-0.7],[5.5,1.7],[7.3,-1.2],[9.1,-5.7],[10.5,-2.5],[11.9,1.7],[13.2,-5.5],[15,-13.5],[16.4,-8.5],[18,-1.5],[20.4,4.3],[22.4,0.5],[23.8,-1],[25.6,4.5],[27.2,12.5],[28.8,15.5],[30,7.5],[30.8,-1],[32,-3.7],[33,-2.3],[34,-3],[35.1,-10.5],[35.9,-19.5],[37,-26.5],[38.3,-24],[39.5,-16.5],[41.1,-5.5],[42.3,10.5],[43.9,23],[45.3,19.5],[47.1,6.5],[48.7,-6.5],[50.3,-10],[51,-9.8],[52.3,-2.5],[53.5,7.5],[54.4,12.7],[55.1,12.3],[56.7,6.5],[58.6,-2.5],[60.6,-8],[62.1,-10.5],[63.4,-8.5],[65,-3.5],[65.8,-3],[67,-4.5],[68.2,-6.5],[69.4,-6.3],[71,-1.5],[73,2.5],[74.2,6.5],[75.4,11],[76.2,10.7],[77.4,4.5],[79,0.3],[80.2,4.5],[81.4,14.5],[82.5,22.7],[83.1,22.7],[84.1,12.5],[85.3,-0.5],[86.1,-3.7],[87.1,-2],[87.9,5.5],[88.9,9.3],[89.9,7.7],[90.9,-5.5],[91.7,-18.5],[93,-32],[94.1,-35.7],[95.3,-27.5],[96.5,-5.5],[97.7,16.5],[99.1,23.8],[100.1,23.5],[101.3,19.5],[103.3,16.5],[104.1,12.5],[105.1,8.5],[106.9,9.2],[107.9,8],[109,7.3]];
const SFJD_syn = [[-10,-0.2],[2.5,-0.2],[9.6,-0.5],[12.8,-2.5],[16.7,-4.5],[19.3,-4.3],[22.4,-6],[24,-3.5],[26,7.5],[29.2,21],[31.2,16.5],[33.5,2.5],[35.9,-9.5],[37.9,-13.8],[39.5,-9.5],[41.5,-0.5],[44.3,6.2],[47.1,1],[49.9,-1],[54.3,3.3],[56.7,-0.5],[59.8,-5],[63,-4.5],[66.2,-4],[69,-5.5],[71.6,-6.7],[74.2,-4.5],[76.6,1],[80.6,4.5],[85.4,2.5],[91.8,-1.8],[95,0],[99.8,2],[104.6,1.5],[109,1.3]];
const KBS_obs = [[-10,0],[-5.5,0.3],[1.7,0.5],[5.7,-0.2],[6.9,-1.2],[8,-2.5],[10,0.5],[11.2,-4.5],[12,-11.5],[13,-17.5],[14,-15.5],[15.1,-6.5],[16.2,-3],[17.2,-3.3],[18.4,-1],[20.4,3.5],[21,3.3],[22.4,-6.5],[23.6,-14.5],[24.8,-21],[26.4,-23.5],[28,-27],[29.2,-25.5],[30.8,-13.5],[32,-10.5],[33.2,-8.5],[34.3,3.5],[35.3,14.5],[36.7,24.5],[37.9,31],[39.8,35.5],[41.1,31.5],[42.3,23.5],[43.3,9.5],[44.7,0.5],[45.9,-4.5],[47.1,-7],[48.3,-1.5],[49.9,18.5],[51.1,21.5],[52.8,18.5],[53.9,25],[55.1,28.3],[56.1,26.5],[57.5,14.5],[59,3.5],[60.2,-4.5],[61.2,-8],[62.1,-7.7],[63.1,-1.5],[64.2,5.5],[65.3,6.3],[66.2,1.5],[68.2,-7],[69.4,-0.5],[70.6,6.5],[71.4,8],[72.4,7.5],[74.2,0],[75.2,2.3],[76.2,2.2],[77.4,1.5],[78.6,-10.5],[79.8,-17.5],[81.4,-20.5],[83.2,-21.3],[85,-18.5],[86.5,-10.5],[88.1,3.5],[89.6,19.5],[91.1,24.3],[92.1,19.5],[93.6,5.5],[94.8,-3],[95.6,-4.3],[97.6,-2],[99.2,-3],[100.4,-2.5],[101.4,2.5],[102.9,17.5],[104.3,21.3],[105.5,15.5],[106.9,6],[108.1,2.7],[109,2]];
const KBS_syn = [[-10,0],[2.5,0],[8,-0.3],[10.4,-1.3],[12.8,-6],[15.9,-8.8],[20.4,-5],[22.8,-10.5],[24.8,-17.5],[27.2,-21.5],[29.6,-15.5],[32.4,-3.5],[35.1,10.5],[39.1,25],[41.5,20.5],[43.9,10.5],[46.9,2.5],[49.5,12.5],[54.1,23],[56.7,17.5],[59.8,5.5],[63,-1],[66.2,-4.5],[68.6,-5.8],[71.4,-5.3],[74.6,-5.8],[78.2,-5],[82.2,-5.5],[87.3,-7.5],[91.7,-6],[98.1,-3.5],[102.1,-2],[105.3,-0.5],[109,0.7]];

const observed = {GRGR: GRGR_obs, ANWB: ANWB_obs, SJG: SJG_obs, SSPA: SSPA_obs, COLA: COLA_obs, BILL: BILL_obs,
  MA2: MA2_obs, PET: PET_obs, YSS: YSS_obs, LBTB: LBTB_obs, BBSR: BBSR_obs, HRV: HRV_obs,
  YAK: YAK_obs, ULN: ULN_obs, CHTO: CHTO_obs, LSZ: LSZ_obs, TSUM: TSUM_obs, MACI: MACI_obs, SFJD: SFJD_obs, KBS: KBS_obs};
const synthetic = {GRGR: GRGR_syn, ANWB: ANWB_syn, SJG: SJG_syn, SSPA: SSPA_syn, COLA: COLA_syn, BILL: BILL_syn,
  MA2: MA2_syn, PET: PET_syn, YSS: YSS_syn, LBTB: LBTB_syn, BBSR: BBSR_syn, HRV: HRV_syn,
  YAK: YAK_syn, ULN: ULN_syn, CHTO: CHTO_syn, LSZ: LSZ_syn, TSUM: TSUM_syn, MACI: MACI_syn, SFJD: SFJD_syn, KBS: KBS_syn};

// layout (page pixels)
const PLOT_LEFT = 76, COL_STEP = 838.6, PLOT_W = 765, PLOT_H = 2271, AXIS_H = 165, PAD = 30;
const ROW_GAP = 78.6, Y_TOP = 39, UNIT_PX = 4.82;
const FONT = '"Liberation Serif", "Times New Roman", serif';
const RED = '#ff0000';

function toXY(points, offset) {
  return points.map(p => ({x: p[0], y: p[1] + offset}));
}

function makeLabelPlugin(names, ccs) {
  return {
    id: 'panelLabels',
    beforeDatasetsDraw(chart) {
      const {ctx, chartArea, scales} = chart;
      ctx.save();
      ctx.fillStyle = '#000';
      ctx.font = '50px ' + FONT;
      ctx.textAlign = 'left';
      ctx.textBaseline = 'alphabetic';
      names.forEach((name, row) => {
        const base = scales.y.getPixelForValue(-row * ROW_GAP);
        ctx.fillText(name, chartArea.left + 1, base - 72);
        ctx.fillText(componentLabel, chartArea.left + 1, base - 15);
        ctx.fillText(String(ccs[row]), chartArea.left + 1, base + 52);
      });
      ctx.restore();
    }
  };
}

// the labelled ticks are twice as long as the 5 s ticks
const majorTicks = {
  id: 'majorTicks',
  afterDraw(chart) {
    const {ctx, scales} = chart;
    const x = scales.x;
    ctx.save();
    ctx.strokeStyle = '#111';
    ctx.lineWidth = 3;
    tickLabels.forEach(v => {
      const px = Math.round(x.getPixelForValue(v)) + 0.5;
      ctx.beginPath();
      ctx.moveTo(px, x.top);
      ctx.lineTo(px, x.top + 24);
      ctx.stroke();
    });
    ctx.restore();
  }
};

let idx = 0;
panelsPerColumn.forEach((n, col) => {
  const names = stations.slice(idx, idx + n);
  const ccs = ccValues.slice(idx, idx + n);
  idx += n;

  const datasets = [];
  names.forEach((name, row) => {
    const off = -row * ROW_GAP;
    datasets.push({data: toXY(synthetic[name], off), borderColor: RED, borderWidth: 4.6, order: 0});
    datasets.push({data: toXY(observed[name], off), borderColor: '#000', borderWidth: 6, order: 1});
  });

  const canvas = document.createElement('canvas');
  canvas.width = PLOT_W + 2 * PAD;
  canvas.height = PLOT_H + AXIS_H;
  canvas.style.left = (PLOT_LEFT + col * COL_STEP - PAD) + 'px';
  document.body.appendChild(canvas);

  new Chart(canvas, {
    type: 'line',
    data: {datasets},
    options: {
      responsive: false,
      animation: false,
      devicePixelRatio: 1,
      layout: {padding: {left: PAD, right: PAD, top: 0, bottom: 0}},
      plugins: {legend: {display: false}, tooltip: {enabled: false}},
      elements: {
        point: {radius: 0},
        line: {cubicInterpolationMode: 'monotone', borderJoinStyle: 'round', borderCapStyle: 'round'}
      },
      scales: {
        x: {
          type: 'linear', min: -10, max: 109.5, position: 'bottom',
          afterFit: s => { s.height = AXIS_H; },
          border: {display: true, color: '#111', width: 3},
          grid: {drawOnChartArea: false, drawTicks: true, tickLength: 12, tickWidth: 3, tickColor: '#111'},
          ticks: {
            stepSize: 5, includeBounds: false, autoSkip: false, maxRotation: 0, padding: 27,
            color: '#000', font: {family: FONT, size: 52},
            callback: v => tickLabels.includes(Math.round(v)) && Math.abs(v - Math.round(v)) < 1e-6 ? String(Math.round(v)) : ''
          },
          title: {display: true, text: 'Time(s)', color: '#000', font: {family: FONT, size: 54}, padding: {top: 0, bottom: 0}}
        },
        y: {display: false, min: Y_TOP - PLOT_H / UNIT_PX, max: Y_TOP}
      }
    },
    plugins: [makeLabelPlugin(names, ccs), majorTicks]
  });
});
</script>
</body>
</html>
